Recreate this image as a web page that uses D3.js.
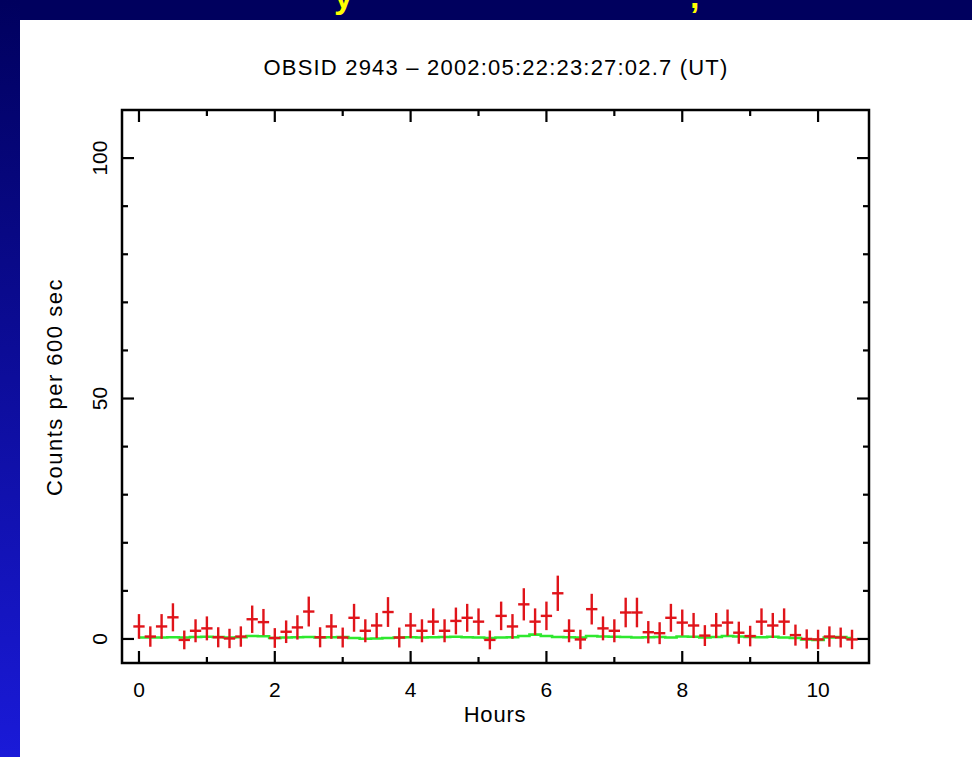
<!DOCTYPE html>
<html>
<head>
<meta charset="utf-8">
<script src="https://cdn.jsdelivr.net/npm/d3@7"></script>
<style>
  html, body { margin: 0; padding: 0; background: #00005e; }
  svg { display: block; }
</style>
</head>
<body>
<svg id="chart" width="972" height="757"></svg>
<script>
// bin centres (hours), 600 s bins
const hours = [0, 0.167, 0.333, 0.5, 0.667, 0.833, 1, 1.167, 1.333, 1.5, 1.667, 1.833, 2, 2.167, 2.333, 2.5,
  2.667, 2.833, 3, 3.167, 3.333, 3.5, 3.667, 3.833, 4, 4.167, 4.333, 4.5, 4.667, 4.833, 5, 5.167,
  5.333, 5.5, 5.667, 5.833, 6, 6.167, 6.333, 6.5, 6.667, 6.833, 7, 7.167, 7.333, 7.5, 7.667, 7.833,
  8, 8.167, 8.333, 8.5, 8.667, 8.833, 9, 9.167, 9.333, 9.5, 9.667, 9.833, 10, 10.167, 10.333, 10.5];

// source counts per bin
const counts = [2.6, 0.5, 2.6, 4.5, -0.2, 1.7, 2.2, 0.35, 0.1, 0.5, 4.1, 3.5, 0.2, 1.5, 2.4, 5.7,
  0.35, 2.6, 0.3, 4.4, 1.7, 2.8, 5.6, 0.3, 2.8, 1.7, 3.6, 1.7, 3.75, 4.4, 3.6, -0.2,
  4.8, 2.6, 7.2, 3.6, 4.8, 9.5, 1.7, -0.1, 6.2, 2.2, 1.7, 5.5, 5.5, 1.4, 1.2, 4.4,
  3.4, 2.8, 0.7, 2.8, 3.4, 1.3, 0.6, 3.6, 2.8, 3.6, 0.8, 0, -0.1, 0.5, 0.3, -0.1];

// error bar half-lengths
const errors = [2.57, 2.12, 2.57, 2.92, 1.95, 2.39, 2.49, 2.09, 2.02, 2.12, 2.85, 2.74, 2.05, 2.35, 2.53, 3.11,
  2.09, 2.57, 2.07, 2.90, 2.39, 2.61, 3.10, 2.07, 2.61, 2.39, 2.76, 2.39, 2.78, 2.90, 2.76, 1.95,
  2.97, 2.57, 3.35, 2.76, 2.97, 3.67, 2.39, 2.02, 3.19, 2.49, 2.39, 3.08, 3.08, 2.32, 2.28, 2.90,
  2.72, 2.61, 2.17, 2.61, 2.72, 2.30, 2.14, 2.76, 2.61, 2.76, 2.19, 2.00, 2.02, 2.12, 2.07, 2.02];

// background level (green)
const background = [0.3, 0.3, 0.3, 0.35, 0.3, 0.4, 0.45, 0.4, 0.3, 0.35, 0.6, 0.55, 0.2, 0.3, 0.35, 0.4,
  0.3, 0.35, 0.4, 0.2, 0.05, 0.1, 0.2, 0.3, 0.35, 0.3, 0.35, 0.4, 0.45, 0.35, 0.3, 0.2,
  0.3, 0.35, 0.6, 0.9, 0.6, 0.4, 0.35, 0.3, 0.6, 0.5, 0.45, 0.4, 0.3, 0.35, 0.4, 0.3,
  0.5, 0.45, 0.3, 0.4, 0.6, 0.5, 0.4, 0.35, 0.45, 0.3, 0.2, -0.1, -0.2, 0.3, 0.4, 0.2];

const binHalf = 1 / 12;

const xMajor = [0, 2, 4, 6, 8, 10];
const xMinor = [1, 3, 5, 7, 9];
const yMajor = [0, 50, 100];
const yMinor = [10, 20, 30, 40, 60, 70, 80, 90];

const svg = d3.select("#chart");
const font = "'Liberation Sans', Arial, sans-serif";

// left edge gradient strip
const defs = svg.append("defs");
const grad = defs.append("linearGradient").attr("id", "edge")
  .attr("x1", 0).attr("y1", 0).attr("x2", 0).attr("y2", 1);
grad.append("stop").attr("offset", "0%").attr("stop-color", "#00005e");
grad.append("stop").attr("offset", "100%").attr("stop-color", "#1a1ad8");
svg.append("rect").attr("x", 0).attr("y", 0).attr("width", 20).attr("height", 757).attr("fill", "url(#edge)");

// white slide panel + top yellow text fragments (cut off, as in the slide)
svg.append("rect").attr("x", 20).attr("y", 20).attr("width", 952).attr("height", 737).attr("fill", "#fff");
svg.append("text").attr("x", 334).attr("y", 8).attr("fill", "#ffff00")
  .style("font", "bold 34px " + font).text("y");
svg.append("text").attr("x", 690).attr("y", 8).attr("fill", "#ffff00")
  .style("font", "bold 34px " + font).text(",");

const pLeft = 122, pRight = 869, pTop = 110, pBottom = 663;
const x = d3.scaleLinear().domain([-0.25, 10.75]).range([pLeft, pRight]);
const y = d3.scaleLinear().domain([-5, 110]).range([pBottom, pTop]);

// ticks on all four sides
const tk = svg.append("g").attr("stroke", "#000").attr("stroke-width", 2.2);
xMajor.forEach(v => {
  tk.append("line").attr("x1", x(v)).attr("x2", x(v)).attr("y1", pBottom).attr("y2", pBottom - 12);
  tk.append("line").attr("x1", x(v)).attr("x2", x(v)).attr("y1", pTop).attr("y2", pTop + 12);
});
xMinor.forEach(v => {
  tk.append("line").attr("x1", x(v)).attr("x2", x(v)).attr("y1", pBottom).attr("y2", pBottom - 6);
  tk.append("line").attr("x1", x(v)).attr("x2", x(v)).attr("y1", pTop).attr("y2", pTop + 6);
});
yMajor.forEach(v => {
  tk.append("line").attr("y1", y(v)).attr("y2", y(v)).attr("x1", pLeft).attr("x2", pLeft + 12);
  tk.append("line").attr("y1", y(v)).attr("y2", y(v)).attr("x1", pRight).attr("x2", pRight - 12);
});
yMinor.forEach(v => {
  tk.append("line").attr("y1", y(v)).attr("y2", y(v)).attr("x1", pLeft).attr("x2", pLeft + 6);
  tk.append("line").attr("y1", y(v)).attr("y2", y(v)).attr("x1", pRight).attr("x2", pRight - 6);
});

// background curve
const bg = hours.map((h, i) => [h, background[i]]);
svg.append("path")
  .datum(bg)
  .attr("fill", "none")
  .attr("stroke", "#2ee82e")
  .attr("stroke-width", 2.6)
  .attr("d", d3.line().x(d => x(d[0])).y(d => y(d[1])).curve(d3.curveStep));

// source points with error crosses
const pts = hours.map((h, i) => ({ h: h, c: counts[i], e: errors[i] }));
const g = svg.append("g").attr("stroke", "#e0141a").attr("stroke-width", 2.4);
g.selectAll("line.v").data(pts).join("line").attr("class", "v")
  .attr("x1", d => x(d.h)).attr("x2", d => x(d.h))
  .attr("y1", d => y(d.c - d.e)).attr("y2", d => y(d.c + d.e));
g.selectAll("line.h").data(pts).join("line").attr("class", "h")
  .attr("x1", d => x(d.h - binHalf)).attr("x2", d => x(d.h + binHalf))
  .attr("y1", d => y(d.c)).attr("y2", d => y(d.c));

// frame
svg.append("rect").attr("x", pLeft).attr("y", pTop).attr("width", pRight - pLeft).attr("height", pBottom - pTop)
  .attr("fill", "none").attr("stroke", "#000").attr("stroke-width", 2.5);

// tick labels
svg.append("g").selectAll("text").data(xMajor).join("text")
  .attr("x", d => x(d)).attr("y", 697).attr("text-anchor", "middle")
  .style("font", "21px " + font).text(d => d);
svg.append("g").selectAll("text").data(yMajor).join("text")
  .attr("transform", d => `translate(107,${y(d)}) rotate(-90)`)
  .attr("text-anchor", "middle")
  .style("font", "21px " + font).text(d => d);

// titles
svg.append("text").attr("x", 496).attr("y", 75).attr("text-anchor", "middle")
  .style("font", "22px " + font).style("letter-spacing", "1.2px")
  .text("OBSID 2943 \u2013 2002:05:22:23:27:02.7 (UT)");
svg.append("text").attr("x", 495).attr("y", 722).attr("text-anchor", "middle")
  .style("font", "22px " + font).style("letter-spacing", "0.8px").text("Hours");
svg.append("text").attr("transform", "translate(62,387) rotate(-90)").attr("text-anchor", "middle")
  .style("font", "22px " + font).style("letter-spacing", "1.5px").text("Counts per 600 sec");
</script>
</body>
</html>
